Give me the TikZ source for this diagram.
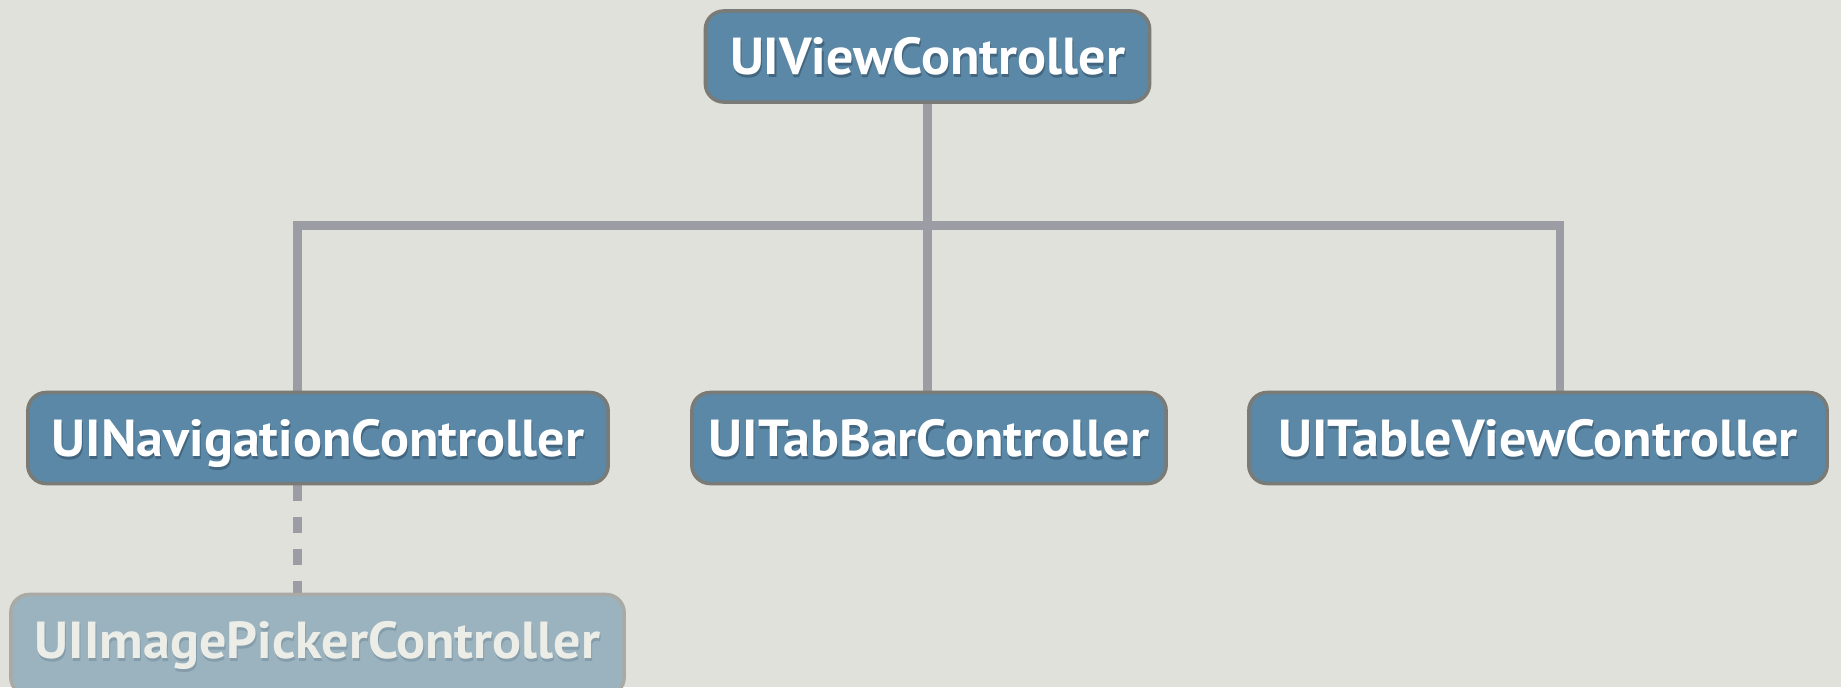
\documentclass[tikz,border=0pt]{standalone}
\usepackage{fontspec}
\setmainfont{PT Sans}
\newfontfamily\labelfont[FakeStretch=1.04]{PT Sans}
\usetikzlibrary{backgrounds}

\definecolor{paper}{HTML}{E0E1DA}
\definecolor{boxfill}{HTML}{5A88A6}
\definecolor{boxedge}{HTML}{7A7A76}
\definecolor{boxshade}{HTML}{42667F}
\definecolor{fadedfill}{HTML}{9BB3BF}
\definecolor{fadededge}{HTML}{A9AAA6}
\definecolor{fadedtext}{HTML}{EDEDE8}
\definecolor{fadedshade}{HTML}{859DAA}
\definecolor{linkgray}{HTML}{9C9CA4}

% text with a soft drop shadow below it
\newcommand{\shadowtext}[2]{{\rlap{\kern0.3pt\raisebox{-0.8pt}{\color{#1}#2}}#2}}

\tikzset{
  classbox/.style={draw=boxedge, fill=boxfill, line width=1pt,
    rounded corners=5.2pt, inner sep=0pt, minimum height=0.91cm,
    text=white, font=\labelfont\fontsize{14.8pt}{17pt}\selectfont\bfseries,
    text height=10.36pt, text depth=0pt},
  fadedbox/.style={classbox, draw=fadededge, fill=fadedfill, text=fadedtext},
  link/.style={draw=linkgray, line width=2.3pt, line join=miter},
  optlink/.style={link, dash pattern=on 0.16cm off 0.16cm}
}

\begin{document}
\begin{tikzpicture}[x=0.01cm, y=-0.01cm]
  \begin{scope}[on background layer]
    \fill[paper] (0,0) rectangle (1841,687);
  \end{scope}
  \useasboundingbox (0,0) rectangle (1841,687);

  % class boxes
  \node[classbox, minimum width=4.44cm] (vc) at (927.5,56.5)
    {\shadowtext{boxshade}{UIViewController}};
  \node[classbox, minimum width=5.80cm] (nav) at (318,438)
    {\shadowtext{boxshade}{UINavigationController}};
  \node[classbox, minimum width=4.74cm] (tab) at (929,438)
    {\shadowtext{boxshade}{UITabBarController}};
  \node[classbox, minimum width=5.78cm] (tbl) at (1538,438)
    {\shadowtext{boxshade}{UITableViewController}};
  \node[fadedbox, minimum width=6.13cm, minimum height=1.01cm] (pick) at (317.5,645)
    {\raisebox{0.05cm}{\shadowtext{fadedshade}{UIImagePickerController}}};

  % inheritance tree
  \coordinate (busL) at (297.5,225.5);
  \coordinate (busR) at (1560,225.5);
  \begin{scope}[on background layer]
    \draw[link] (vc.south) -- (vc.south |- tab.north);
    \draw[link] (busL |- nav.north) -- (busL) -- (busR) -- (busR |- tbl.north);
    \draw[optlink] (busL |- nav.south) -- (busL |- pick.north);
  \end{scope}
\end{tikzpicture}
\end{document}
